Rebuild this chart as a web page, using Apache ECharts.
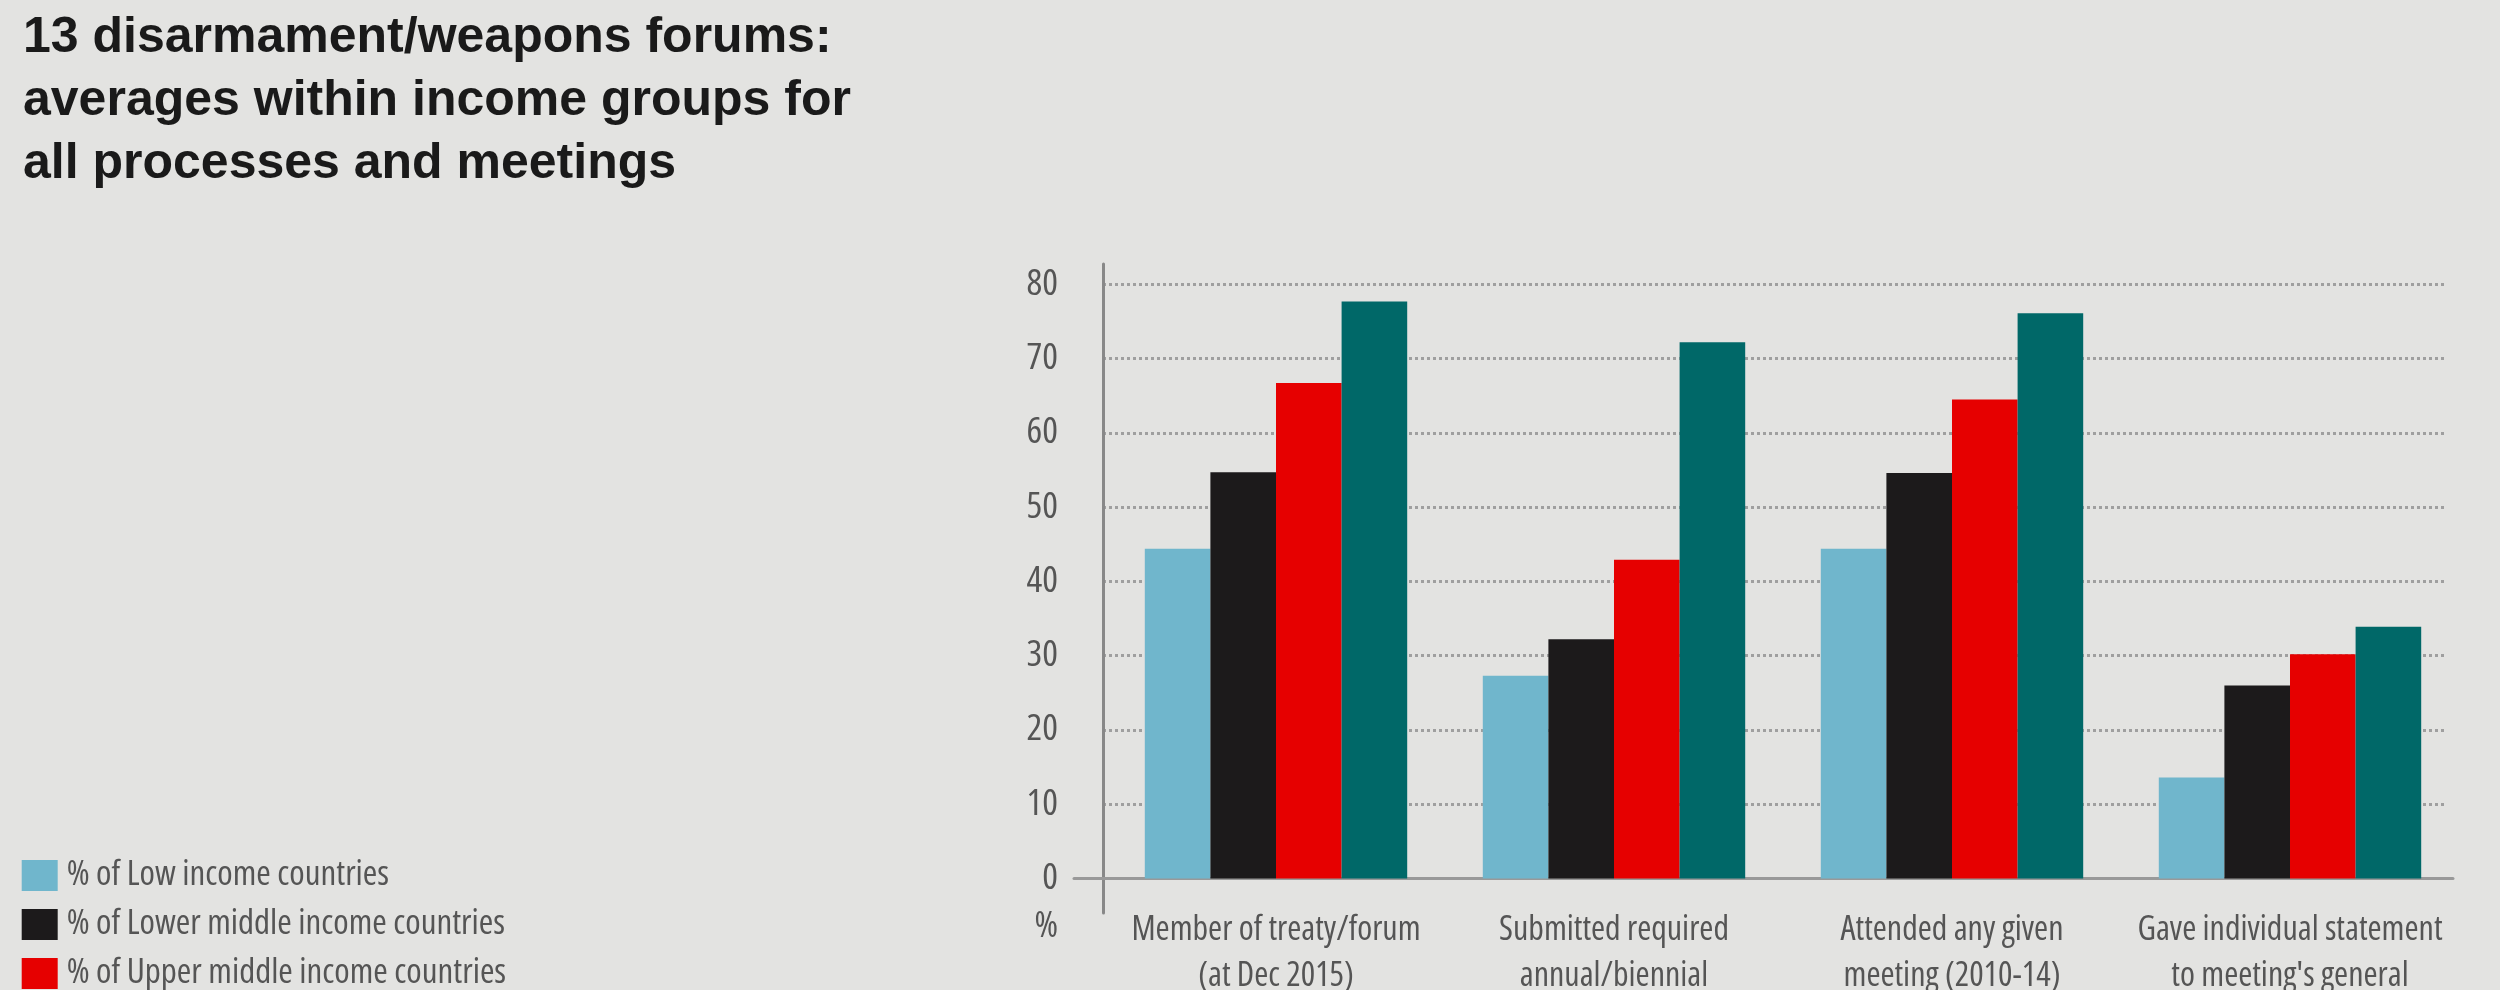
<!DOCTYPE html>
<html>
<head>
<meta charset="utf-8">
<title>13 disarmament/weapons forums</title>
<script src="https://cdn.jsdelivr.net/npm/echarts@6/dist/echarts.min.js"></script>
<style>
html, body { margin: 0; padding: 0; background: #e3e3e1; }
#chart { width: 2500px; height: 990px; }
</style>
</head>
<body>
<div id="chart"></div>
<script>
// categories -- x axis groups (the third label lines fall below the picture)
var categories = [
	'Member of treaty/forum\n(at Dec 2015)',
	'Submitted required\nannual/biennial',
	'Attended any given\nmeeting (2010-14)',
	'Gave individual statement\nto meeting\'s general'
];
// series names, in legend order
var seriesNames = [
	'% of Low income countries',
	'% of Lower middle income countries',
	'% of Upper middle income countries',
	'% of High income countries'
];
// values per group (%)
var lowIncome = [44.4, 27.3, 44.4, 13.6];
var lowerMiddle = [54.7, 32.2, 54.6, 26.0];
var upperMiddle = [66.7, 42.9, 64.5, 30.2];
var highIncome = [77.7, 72.2, 76.1, 33.9];
// y axis ticks
var yMin = 0;
var yMax = 80;
var yStep = 10;

var seriesColors = ['#70b6cc', '#1c1a1b', '#e60000', '#006868'];
// condensed face of Open Sans (width axis) for the small texts
var narrow = "'Open Sans', 'DejaVu Sans Condensed', sans-serif";
var narrowWeight = 'condensed';
var textGrey = '#555555';

var myChart = echarts.init(document.getElementById('chart'));

var seriesData = [lowIncome, lowerMiddle, upperMiddle, highIncome];
var series = seriesData.map(function(vals, i) {
	return {
		name: seriesNames[i],
		type: 'bar',
		xAxisIndex: 0,
		yAxisIndex: 0,
		barWidth: 65.6,
		barGap: '0%',
		itemStyle: { color: seriesColors[i] },
		data: vals
	};
});

var plotTop = 284.3;
var plotHeight = 594.2;

// grids keep the exact box given (labels may run past the picture edge)
function makeGrid(left, top, width, height) {
	return { left: left, top: top, width: width, height: height, containLabel: false, outerBoundsMode: 'none' };
}

var option = {
	animation: false,
	backgroundColor: '#e3e3e1',
	title: {
		text: '13 disarmament/weapons forums:\naverages within income groups for\nall processes and meetings',
		left: 23,
		top: 7,
		padding: 0,
		textStyle: {
			fontFamily: "'Liberation Sans', Arial, sans-serif",
			fontSize: 50,
			fontWeight: 'bold',
			lineHeight: 63,
			color: '#1a1a1a'
		}
	},
	legend: {
		orient: 'vertical',
		left: 21.7,
		top: 858,
		height: 400,
		padding: 0,
		icon: 'rect',
		itemWidth: 36,
		itemHeight: 31,
		itemGap: 14,
		data: seriesNames,
		textStyle: {
			fontFamily: narrow,
			fontWeight: narrowWeight,
			fontSize: 35,
			lineHeight: 31,
			color: textGrey,
			padding: [0, 0, 0, 4]
		}
	},
	grid: [
		// bars
		makeGrid(1107, plotTop, 1352, plotHeight),
		// dotted gridlines + y labels
		makeGrid(1103, plotTop, 1344, plotHeight),
		// long y axis line
		makeGrid(1103, 264, 10, 649),
		// baseline, starting left of the y axis
		makeGrid(1074, plotTop, 1379, plotHeight)
	],
	xAxis: [
		{
			type: 'category',
			gridIndex: 0,
			data: categories,
			axisLine: { show: false },
			axisTick: { show: false },
			axisLabel: {
				interval: 0,
				margin: 29,
				fontFamily: narrow,
				fontWeight: narrowWeight,
				fontSize: 34,
				lineHeight: 46,
				color: textGrey
			}
		},
		{ type: 'value', gridIndex: 1, show: false },
		{ type: 'value', gridIndex: 2, show: false },
		{
			type: 'value',
			gridIndex: 3,
			min: 0,
			max: 1,
			axisLine: { show: true, lineStyle: { color: '#999999', width: 3 } },
			axisTick: { show: false },
			axisLabel: { show: false },
			splitLine: { show: false }
		}
	],
	yAxis: [
		{ type: 'value', gridIndex: 0, min: yMin, max: yMax, show: false },
		{
			type: 'value',
			gridIndex: 1,
			min: yMin,
			max: yMax,
			interval: yStep,
			name: '%',
			nameLocation: 'start',
			nameGap: 48,
			nameTextStyle: {
				fontFamily: narrow,
				fontWeight: narrowWeight,
				fontSize: 36,
				color: textGrey,
				align: 'right',
				verticalAlign: 'middle',
				padding: [0, 45, 0, 0]
			},
			axisLine: { show: false },
			axisTick: { show: false },
			axisLabel: {
				margin: 45,
				fontFamily: narrow,
				fontWeight: narrowWeight,
				fontSize: 37,
				color: textGrey
			},
			splitLine: {
				show: true,
				lineStyle: { color: '#9f9f9f', width: 3, type: 'dotted' }
			}
		},
		{
			type: 'value',
			gridIndex: 2,
			min: 0,
			max: 1,
			axisLine: { show: true, lineStyle: { color: '#888888', width: 3 } },
			axisTick: { show: false },
			axisLabel: { show: false },
			splitLine: { show: false }
		},
		{ type: 'value', gridIndex: 3, min: 0, max: 1, show: false }
	],
	series: series
};

myChart.setOption(option);
</script>
</body>
</html>
